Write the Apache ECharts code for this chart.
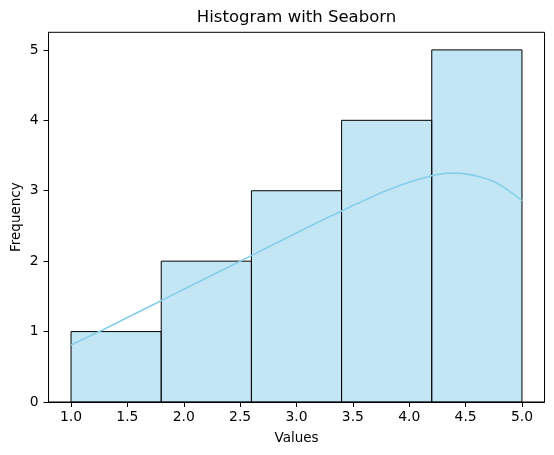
<!DOCTYPE html>
<html><head><meta charset="utf-8">
<script src="https://cdn.jsdelivr.net/npm/echarts@6/dist/echarts.min.js"></script>
<style>html,body{margin:0;padding:0;background:#fff}#c{width:554px;height:455px}</style>
</head><body><div id="c"></div>
<script>
const binEdges = [1.0, 1.8, 2.6, 3.4, 4.2, 5.0];
const counts = [1, 2, 3, 4, 5];
const kdeX = [1.0, 1.25, 1.5, 1.75, 2.0, 2.25, 2.5, 2.75, 3.0, 3.25, 3.375, 3.5, 3.625, 3.75, 3.875, 4.0, 4.125, 4.25, 4.375, 4.5, 4.625, 4.75, 4.875, 5.0];
const kdeY = [0.81, 1.00, 1.20, 1.40, 1.60, 1.80, 2.00, 2.20, 2.40, 2.60, 2.69, 2.79, 2.88, 2.97, 3.05, 3.12, 3.18, 3.23, 3.25, 3.24, 3.20, 3.13, 3.01, 2.86];
const xTicks = [1.0, 1.5, 2.0, 2.5, 3.0, 3.5, 4.0, 4.5, 5.0];
const yTicks = [0, 1, 2, 3, 4, 5];

const bars = counts.map((c, i) => [binEdges[i], binEdges[i + 1], c]);
const kde = kdeX.map((x, i) => [x, kdeY[i]]);
const font = 'DejaVu Sans';
const G = {left: 48.5, right: 9.5, top: 32.3, bottom: 53};

const chart = echarts.init(document.getElementById('c'), null, {renderer: 'canvas'});
chart.setOption({
  animation: false,
  backgroundColor: '#fff',
  graphic: [{
    type: 'text',
    x: (G.left + 554 - G.right) / 2, y: 9.5,
    style: {text: 'Histogram with Seaborn', fontFamily: font, fontSize: 16.5, fill: '#000', align: 'center', verticalAlign: 'top'}
  }, {
    type: 'text',
    x: 16.5, y: (G.top + 455 - G.bottom) / 2, rotation: Math.PI / 2,
    style: {text: 'Frequency', fontFamily: font, fontSize: 13.5, fill: '#000', align: 'center', verticalAlign: 'middle'}
  }],
  grid: {left: G.left, right: G.right, top: G.top, bottom: G.bottom, containLabel: false, outerBoundsMode: 'none',
    show: true, borderColor: '#000', borderWidth: 1, backgroundColor: 'transparent'},
  xAxis: {
    type: 'value', min: 0.8, max: 5.2,
    name: 'Values', nameLocation: 'middle', nameGap: 29,
    nameTextStyle: {fontFamily: font, fontSize: 13.5, color: '#000'},
    axisLine: {show: true, onZero: false, lineStyle: {color: '#000', width: 1}},
    axisTick: {show: true, length: 5, customValues: xTicks, lineStyle: {color: '#000'}},
    axisLabel: {customValues: xTicks, fontFamily: font, fontSize: 13.9, color: '#000', margin: 8,
      formatter: v => v.toFixed(1)},
    splitLine: {show: false}
  },
  yAxis: {
    type: 'value', min: 0, max: 5.25,
    axisLine: {show: true, lineStyle: {color: '#000', width: 1}},
    axisTick: {show: true, length: 5, customValues: yTicks, lineStyle: {color: '#000'}},
    axisLabel: {customValues: yTicks, fontFamily: font, fontSize: 13.9, color: '#000', margin: 10},
    splitLine: {show: false}
  },
  series: [
    {
      type: 'custom',
      data: bars,
      encode: {x: [0, 1], y: 2},
      renderItem: function (params, api) {
        const p0 = api.coord([api.value(0), 0]);
        const p1 = api.coord([api.value(1), api.value(2)]);
        return {
          type: 'rect',
          shape: {x: p0[0], y: p1[1], width: p1[0] - p0[0], height: p0[1] - p1[1]},
          style: {fill: 'rgba(135,206,235,0.5)', stroke: '#000', lineWidth: 1}
        };
      },
      z: 2
    },
    {
      type: 'line', data: kde, smooth: 0.3, showSymbol: false,
      lineStyle: {color: '#87CEEB', width: 1.6}, z: 3
    }
  ]
});
</script>
</body></html>
